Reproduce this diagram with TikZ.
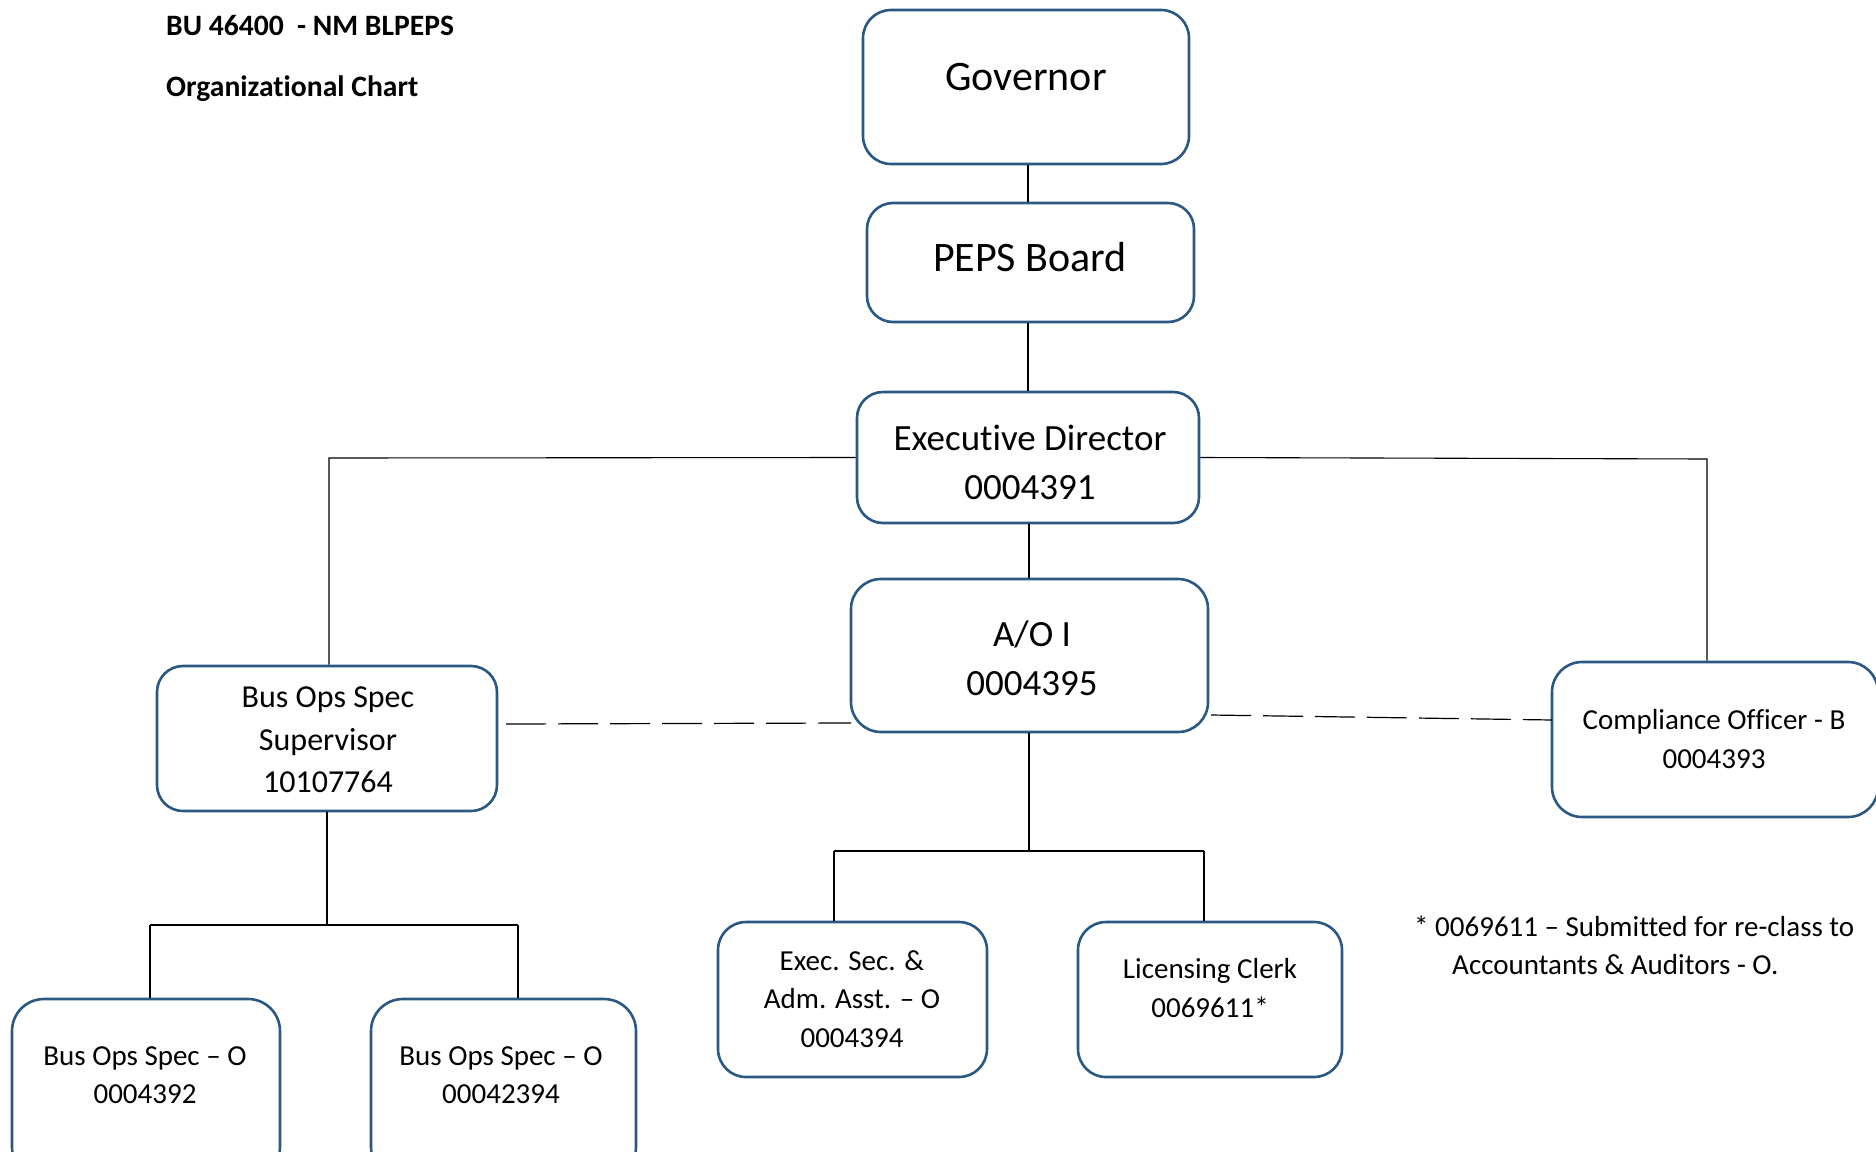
\documentclass[tikz,border=0pt]{standalone}
\usepackage{fontspec}
\setmainfont[Ligatures=NoCommon]{Carlito}
\definecolor{boxblue}{HTML}{2B5783}
\begin{document}
\begin{tikzpicture}[x=1pt,y=-1pt,
  box/.style={draw=boxblue,line width=2.6pt,rounded corners=#1,inner sep=0pt,fill=white},
  box/.default=26pt,
  conn/.style={draw=black,line width=1.1pt},
  dconn/.style={draw=black,line width=1.2pt,dash pattern=on 40pt off 12pt},
  fa/.style={font=\fontsize{42}{55}\selectfont,align=center,inner sep=0pt},
  fb/.style={font=\fontsize{37}{49}\selectfont,align=center,inner sep=0pt},
  fc/.style={font=\fontsize{32}{42.5}\selectfont,align=center,inner sep=0pt},
  fd/.style={font=\fontsize{29}{38.3}\selectfont,align=center,inner sep=0pt},
  ft/.style={font=\fontsize{29.6}{36}\selectfont\bfseries,inner sep=0pt,anchor=west},
  fn/.style={font=\fontsize{29}{38}\selectfont,inner sep=0pt,anchor=west}]
\useasboundingbox (0,0) rectangle (1876,1151);
\clip (0,0) rectangle (1876,1151);
% boxes
\node[box=28pt,minimum width=326pt,minimum height=154pt] (gov) at (1026,87) {};
\node[box,minimum width=327pt,minimum height=119pt] (peps) at (1030.5,262.5) {};
\node[box,minimum width=342pt,minimum height=131pt] (exec) at (1028,457.5) {};
\node[box=30pt,minimum width=357pt,minimum height=153pt] (ao) at (1029.5,655.5) {};
\node[box,minimum width=340pt,minimum height=145pt] (sup) at (327,738.5) {};
\node[box=30pt,minimum width=326pt,minimum height=155pt] (comp) at (1715,739.5) {};
\node[box=32pt,minimum width=268pt,minimum height=180pt] (bo1) at (146,1089) {};
\node[box=32pt,minimum width=265pt,minimum height=180pt] (bo2) at (503.5,1089) {};
\node[box=28pt,minimum width=269pt,minimum height=155pt] (sec) at (852.5,999.5) {};
\node[box=28pt,minimum width=264pt,minimum height=155pt] (lic) at (1210,999.5) {};
% texts
\node[fa] (govt) at (1026,77) {Governor};
\node[fa] (pepst) at (1030,257) {PEPS Board};
\node[fb] (exect) at (1030,462) {Executive Director\\0004391};
\node[fb] (aot) at (1032,658) {A/O I\\0004395};
\node[fc] (supt) at (328,740) {Bus Ops Spec\\Supervisor\\10107764};
\node[fd] (compt) at (1714,739) {Compliance Officer - B\\0004393};
\node[fd] (bo1t) at (145,1075) {Bus Ops Spec -- O\\0004392};
\node[fd] (bo2t) at (501,1075) {Bus Ops Spec -- O\\00042394};
\node[fd] (sect) at (852,999) {Exec. Sec. \&\\Adm. Asst. -- O\\0004394};
\node[fd] (lict) at (1210,988) {Licensing Clerk\\0069611*};
\node[ft] (title1) at (166,26) {BU 46400\hspace{0.45em}- NM BLPEPS};
\node[ft] (title2) at (166,89) {Organizational Chart};
\node[fn] (note1) at (1414,926) {* 0069611 -- Submitted for re-class to};
\node[fn] (note2) at (1452,965) {Accountants \& Auditors - O.};
% connectors
\draw[conn] (gov.south -| 1028,0) -- (peps.north -| 1028,0);
\draw[conn] (peps.south -| 1028,0) -- (exec.north -| 1028,0);
\draw[conn] (exec.south -| 1029,0) -- (ao.north -| 1029,0);
\coordinate (exL) at (329,458);
\coordinate (exR) at (1707,459);
\draw[conn] (exec.west) -- (exL) -- (exL |- sup.north);
\draw[conn] (exec.east) -- (exR) -- (exR |- comp.north);
\coordinate (aobus) at (1029,851);
\coordinate (aoL) at (834,851);
\coordinate (aoR) at (1204,851);
\draw[conn] (ao.south -| aobus) -- (aobus);
\draw[conn] (aoL) -- (aoR);
\draw[conn] (aoL) -- (aoL |- sec.north);
\draw[conn] (aoR) -- (aoR |- lic.north);
\coordinate (supbus) at (327,925);
\coordinate (supL) at (150,925);
\coordinate (supR) at (518,925);
\draw[conn] (sup.south -| supbus) -- (supbus);
\draw[conn] (supL) -- (supR);
\draw[conn] (supL) -- (supL |- bo1.north);
\draw[conn] (supR) -- (supR |- bo2.north);
\coordinate (dl1) at (506,724);
\coordinate (dl2) at (851,723);
\coordinate (dr1) at (1211,715);
\coordinate (dr2) at (1552,720);
\draw[dconn] (dl1) -- (dl2);
\draw[dconn] (dr1) -- (dr2);
\end{tikzpicture}
\end{document}
